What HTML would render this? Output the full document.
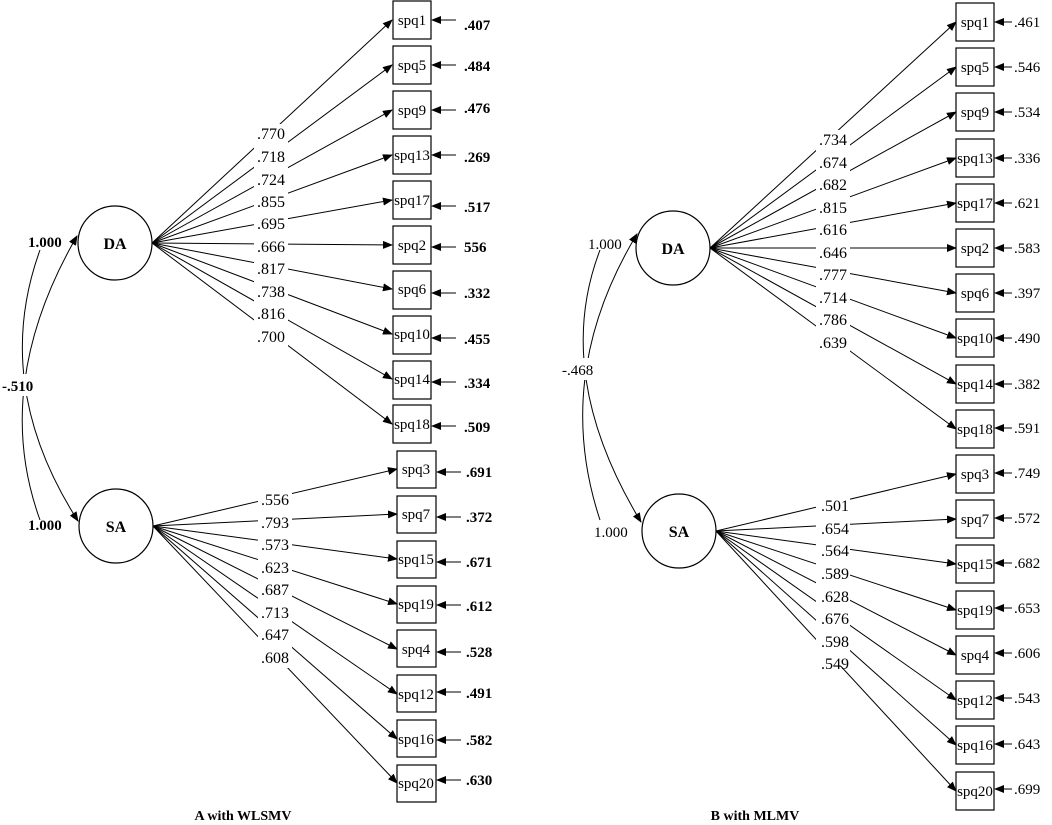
<!DOCTYPE html>
<html><head><meta charset="utf-8"><style>
html,body{margin:0;padding:0;background:#fff;}
svg{display:block;font-family:"Liberation Serif",serif;}
.ld{font-size:16px;}
.bx{font-size:15px;}
.er{font-size:15px;font-weight:bold;}
.er2{font-size:15px;}
</style></head><body>
<svg width="1052" height="825" viewBox="0 0 1052 825" xmlns="http://www.w3.org/2000/svg">
<defs>
<marker id="a" markerWidth="10" markerHeight="8" refX="9" refY="4" orient="auto" markerUnits="userSpaceOnUse"><path d="M0,0 L10,4 L0,8 Z" fill="#000"/></marker>
</defs>
<g stroke="#000" stroke-width="1" fill="none">
<!-- LEFT DA lines -->
<line x1="152" y1="243" x2="392" y2="20" marker-end="url(#a)"/>
<line x1="152" y1="243" x2="392" y2="65" marker-end="url(#a)"/>
<line x1="152" y1="243" x2="392" y2="110" marker-end="url(#a)"/>
<line x1="152" y1="243" x2="392" y2="155" marker-end="url(#a)"/>
<line x1="152" y1="243" x2="392" y2="200" marker-end="url(#a)"/>
<line x1="152" y1="243" x2="392" y2="245" marker-end="url(#a)"/>
<line x1="152" y1="243" x2="392" y2="289" marker-end="url(#a)"/>
<line x1="152" y1="243" x2="392" y2="334" marker-end="url(#a)"/>
<line x1="152" y1="243" x2="392" y2="379" marker-end="url(#a)"/>
<line x1="152" y1="243" x2="392" y2="424" marker-end="url(#a)"/>
<!-- LEFT SA lines -->
<line x1="153" y1="526" x2="397" y2="469" marker-end="url(#a)"/>
<line x1="153" y1="526" x2="397" y2="514" marker-end="url(#a)"/>
<line x1="153" y1="526" x2="397" y2="559" marker-end="url(#a)"/>
<line x1="153" y1="526" x2="397" y2="604" marker-end="url(#a)"/>
<line x1="153" y1="526" x2="397" y2="649" marker-end="url(#a)"/>
<line x1="153" y1="526" x2="397" y2="694" marker-end="url(#a)"/>
<line x1="153" y1="526" x2="397" y2="739" marker-end="url(#a)"/>
<line x1="153" y1="526" x2="397" y2="783" marker-end="url(#a)"/>
<!-- RIGHT DA lines -->
<line x1="710" y1="248" x2="956" y2="22" marker-end="url(#a)"/>
<line x1="710" y1="248" x2="956" y2="67" marker-end="url(#a)"/>
<line x1="710" y1="248" x2="956" y2="112" marker-end="url(#a)"/>
<line x1="710" y1="248" x2="956" y2="158" marker-end="url(#a)"/>
<line x1="710" y1="248" x2="956" y2="203" marker-end="url(#a)"/>
<line x1="710" y1="248" x2="956" y2="248" marker-end="url(#a)"/>
<line x1="710" y1="248" x2="956" y2="293" marker-end="url(#a)"/>
<line x1="710" y1="248" x2="956" y2="338" marker-end="url(#a)"/>
<line x1="710" y1="248" x2="956" y2="384" marker-end="url(#a)"/>
<line x1="710" y1="248" x2="956" y2="429" marker-end="url(#a)"/>
<!-- RIGHT SA lines -->
<line x1="716" y1="531" x2="956" y2="474" marker-end="url(#a)"/>
<line x1="716" y1="531" x2="956" y2="519" marker-end="url(#a)"/>
<line x1="716" y1="531" x2="956" y2="564" marker-end="url(#a)"/>
<line x1="716" y1="531" x2="956" y2="610" marker-end="url(#a)"/>
<line x1="716" y1="531" x2="956" y2="655" marker-end="url(#a)"/>
<line x1="716" y1="531" x2="956" y2="700" marker-end="url(#a)"/>
<line x1="716" y1="531" x2="956" y2="745" marker-end="url(#a)"/>
<line x1="716" y1="531" x2="956" y2="791" marker-end="url(#a)"/>
<!-- covariance curves -->
<path d="M40,520 Q-9,385 77,236" marker-end="url(#a)"/>
<path d="M40,250 Q-9,385 78,521" marker-end="url(#a)"/>
<path d="M600,520 Q552,375 637,234" marker-end="url(#a)"/>
<path d="M600,250 Q552,375 641,522" marker-end="url(#a)"/>
<!-- error arrows left -->
<g marker-end="url(#a)">
<line x1="456" y1="20" x2="432" y2="20"/><line x1="456" y1="65" x2="432" y2="65"/>
<line x1="456" y1="110" x2="432" y2="110"/><line x1="456" y1="155" x2="432" y2="155"/>
<line x1="456" y1="206" x2="432" y2="206"/><line x1="456" y1="247" x2="432" y2="247"/>
<line x1="456" y1="293" x2="432" y2="293"/><line x1="456" y1="338" x2="432" y2="338"/>
<line x1="456" y1="382" x2="432" y2="382"/><line x1="456" y1="426" x2="432" y2="426"/>
<line x1="461" y1="472" x2="437" y2="472"/><line x1="461" y1="517" x2="437" y2="517"/>
<line x1="461" y1="562" x2="437" y2="562"/><line x1="461" y1="605" x2="437" y2="605"/>
<line x1="461" y1="652" x2="437" y2="652"/><line x1="461" y1="692" x2="437" y2="692"/>
<line x1="461" y1="740" x2="437" y2="740"/><line x1="461" y1="780" x2="437" y2="780"/>
<!-- right -->
<line x1="1012" y1="22" x2="995" y2="22"/><line x1="1012" y1="67" x2="995" y2="67"/>
<line x1="1012" y1="112" x2="995" y2="112"/><line x1="1012" y1="158" x2="995" y2="158"/>
<line x1="1012" y1="203" x2="995" y2="203"/><line x1="1012" y1="248" x2="995" y2="248"/>
<line x1="1012" y1="293" x2="995" y2="293"/><line x1="1012" y1="338" x2="995" y2="338"/>
<line x1="1012" y1="384" x2="995" y2="384"/><line x1="1012" y1="428" x2="995" y2="428"/>
<line x1="1012" y1="473" x2="995" y2="473"/><line x1="1012" y1="518" x2="995" y2="518"/>
<line x1="1012" y1="563" x2="995" y2="563"/><line x1="1012" y1="608" x2="995" y2="608"/>
<line x1="1012" y1="653" x2="995" y2="653"/><line x1="1012" y1="698" x2="995" y2="698"/>
<line x1="1012" y1="744" x2="995" y2="744"/><line x1="1012" y1="789" x2="995" y2="789"/>
</g>
</g>
<!-- circles -->
<g stroke="#000" fill="#fff" stroke-width="1.2">
<circle cx="115" cy="243" r="37"/><circle cx="116" cy="526" r="37"/>
<circle cx="673" cy="248" r="37"/><circle cx="679" cy="531" r="37"/>
</g>
<g font-size="16" text-anchor="middle" font-weight="bold">
<text x="115" y="249">DA</text><text x="116" y="532">SA</text>
<text x="673" y="254">DA</text><text x="679" y="537">SA</text>
</g>
<!-- boxes -->
<g stroke="#000" fill="#fff" stroke-width="1.2">
<rect x="393" y="1" width="38" height="38"/><rect x="393" y="46" width="38" height="38"/>
<rect x="393" y="91" width="38" height="38"/><rect x="393" y="136" width="38" height="38"/>
<rect x="393" y="181" width="38" height="38"/><rect x="393" y="226" width="38" height="38"/>
<rect x="393" y="271" width="38" height="38"/><rect x="393" y="316" width="38" height="38"/>
<rect x="393" y="361" width="38" height="38"/><rect x="393" y="405" width="38" height="38"/>
<rect x="397" y="451" width="39" height="37"/><rect x="397" y="496" width="39" height="37"/>
<rect x="397" y="541" width="39" height="37"/><rect x="397" y="586" width="39" height="37"/>
<rect x="397" y="630" width="39" height="37"/><rect x="397" y="675" width="39" height="37"/>
<rect x="397" y="720" width="39" height="37"/><rect x="397" y="765" width="39" height="37"/>
<rect x="956" y="3" width="38" height="38"/><rect x="956" y="48" width="38" height="38"/>
<rect x="956" y="93" width="38" height="38"/><rect x="956" y="139" width="38" height="38"/>
<rect x="956" y="184" width="38" height="38"/><rect x="956" y="229" width="38" height="38"/>
<rect x="956" y="274" width="38" height="38"/><rect x="956" y="319" width="38" height="38"/>
<rect x="956" y="365" width="38" height="38"/><rect x="956" y="410" width="38" height="38"/>
<rect x="956" y="455" width="38" height="38"/><rect x="956" y="500" width="38" height="38"/>
<rect x="956" y="545" width="38" height="38"/><rect x="956" y="591" width="38" height="38"/>
<rect x="956" y="636" width="38" height="38"/><rect x="956" y="681" width="38" height="38"/>
<rect x="956" y="726" width="38" height="38"/><rect x="956" y="772" width="38" height="38"/>
</g>
<g class="bx" text-anchor="middle">
<text x="412" y="25">spq1</text><text x="412" y="70">spq5</text><text x="412" y="115">spq9</text>
<text x="412" y="160">spq13</text><text x="412" y="205">spq17</text><text x="412" y="250">spq2</text>
<text x="412" y="294">spq6</text><text x="412" y="339">spq10</text><text x="412" y="384">spq14</text>
<text x="412" y="429">spq18</text>
<text x="416" y="474">spq3</text><text x="416" y="519">spq7</text><text x="416" y="564">spq15</text>
<text x="416" y="609">spq19</text><text x="416" y="654">spq4</text><text x="416" y="699">spq12</text>
<text x="416" y="744">spq16</text><text x="416" y="788">spq20</text>
<text x="975" y="27">spq1</text><text x="975" y="72">spq5</text><text x="975" y="117">spq9</text>
<text x="975" y="163">spq13</text><text x="975" y="208">spq17</text><text x="975" y="253">spq2</text>
<text x="975" y="298">spq6</text><text x="975" y="343">spq10</text><text x="975" y="389">spq14</text>
<text x="975" y="434">spq18</text><text x="975" y="479">spq3</text><text x="975" y="524">spq7</text>
<text x="975" y="569">spq15</text><text x="975" y="615">spq19</text><text x="975" y="660">spq4</text>
<text x="975" y="705">spq12</text><text x="975" y="750">spq16</text><text x="975" y="796">spq20</text>
</g>
<!-- label backgrounds -->
<g fill="#fff">
<rect x="254" y="124" width="34" height="222"/>
<rect x="258" y="490" width="34" height="178"/>
<rect x="816" y="130" width="34" height="222"/>
<rect x="816" y="496" width="34" height="170"/>
<rect x="0" y="374" width="40" height="22"/>
<rect x="560" y="358" width="40" height="22"/>
</g>
<g class="ld" text-anchor="middle">
<text x="271" y="139">.770</text><text x="271" y="162">.718</text><text x="271" y="185">.724</text>
<text x="271" y="207">.855</text><text x="271" y="229">.695</text><text x="271" y="252">.666</text>
<text x="271" y="274">.817</text><text x="271" y="297">.738</text><text x="271" y="319">.816</text>
<text x="271" y="342">.700</text>
<text x="275" y="505">.556</text><text x="275" y="528">.793</text><text x="275" y="550">.573</text>
<text x="275" y="573">.623</text><text x="275" y="595">.687</text><text x="275" y="618">.713</text>
<text x="275" y="640">.647</text><text x="275" y="663">.608</text>
<text x="833" y="145">.734</text><text x="833" y="168">.674</text><text x="833" y="190">.682</text>
<text x="833" y="213">.815</text><text x="833" y="235">.616</text><text x="833" y="258">.646</text>
<text x="833" y="280">.777</text><text x="833" y="303">.714</text><text x="833" y="325">.786</text>
<text x="833" y="348">.639</text>
<text x="835" y="511">.501</text><text x="835" y="534">.654</text><text x="835" y="556">.564</text>
<text x="835" y="579">.589</text><text x="835" y="602">.628</text><text x="835" y="624">.676</text>
<text x="835" y="647">.598</text><text x="835" y="669">.549</text>
</g>
<g class="er">
<text x="464" y="30">.407</text><text x="464" y="71">.484</text><text x="464" y="113">.476</text>
<text x="464" y="162">.269</text><text x="464" y="212">.517</text><text x="464" y="252">556</text>
<text x="464" y="298">.332</text><text x="464" y="344">.455</text><text x="464" y="388">.334</text>
<text x="464" y="432">.509</text><text x="466" y="477">.691</text><text x="466" y="522">.372</text>
<text x="466" y="567">.671</text><text x="466" y="611">.612</text><text x="466" y="657">.528</text>
<text x="466" y="698">.491</text><text x="466" y="745">.582</text><text x="466" y="785">.630</text>
<text x="28" y="247">1.000</text><text x="28" y="530">1.000</text>
<text x="2" y="391">-.510</text>
</g>
<g class="er2">
<text x="1014" y="27">.461</text><text x="1014" y="72">.546</text><text x="1014" y="117">.534</text>
<text x="1014" y="163">.336</text><text x="1014" y="208">.621</text><text x="1014" y="253">.583</text>
<text x="1014" y="298">.397</text><text x="1014" y="343">.490</text><text x="1014" y="389">.382</text>
<text x="1014" y="433">.591</text><text x="1014" y="478">.749</text><text x="1014" y="523">.572</text>
<text x="1014" y="568">.682</text><text x="1014" y="613">.653</text><text x="1014" y="658">.606</text>
<text x="1014" y="703">.543</text><text x="1014" y="749">.643</text><text x="1014" y="794">.699</text>
<text x="588" y="249">1.000</text><text x="594" y="537">1.000</text>
<text x="562" y="375">-.468</text>
</g>
<g font-size="14" font-weight="bold" text-anchor="middle">
<text x="243" y="820">A with WLSMV</text>
<text x="755" y="820">B with MLMV</text>
</g>
</svg>
</body></html>
